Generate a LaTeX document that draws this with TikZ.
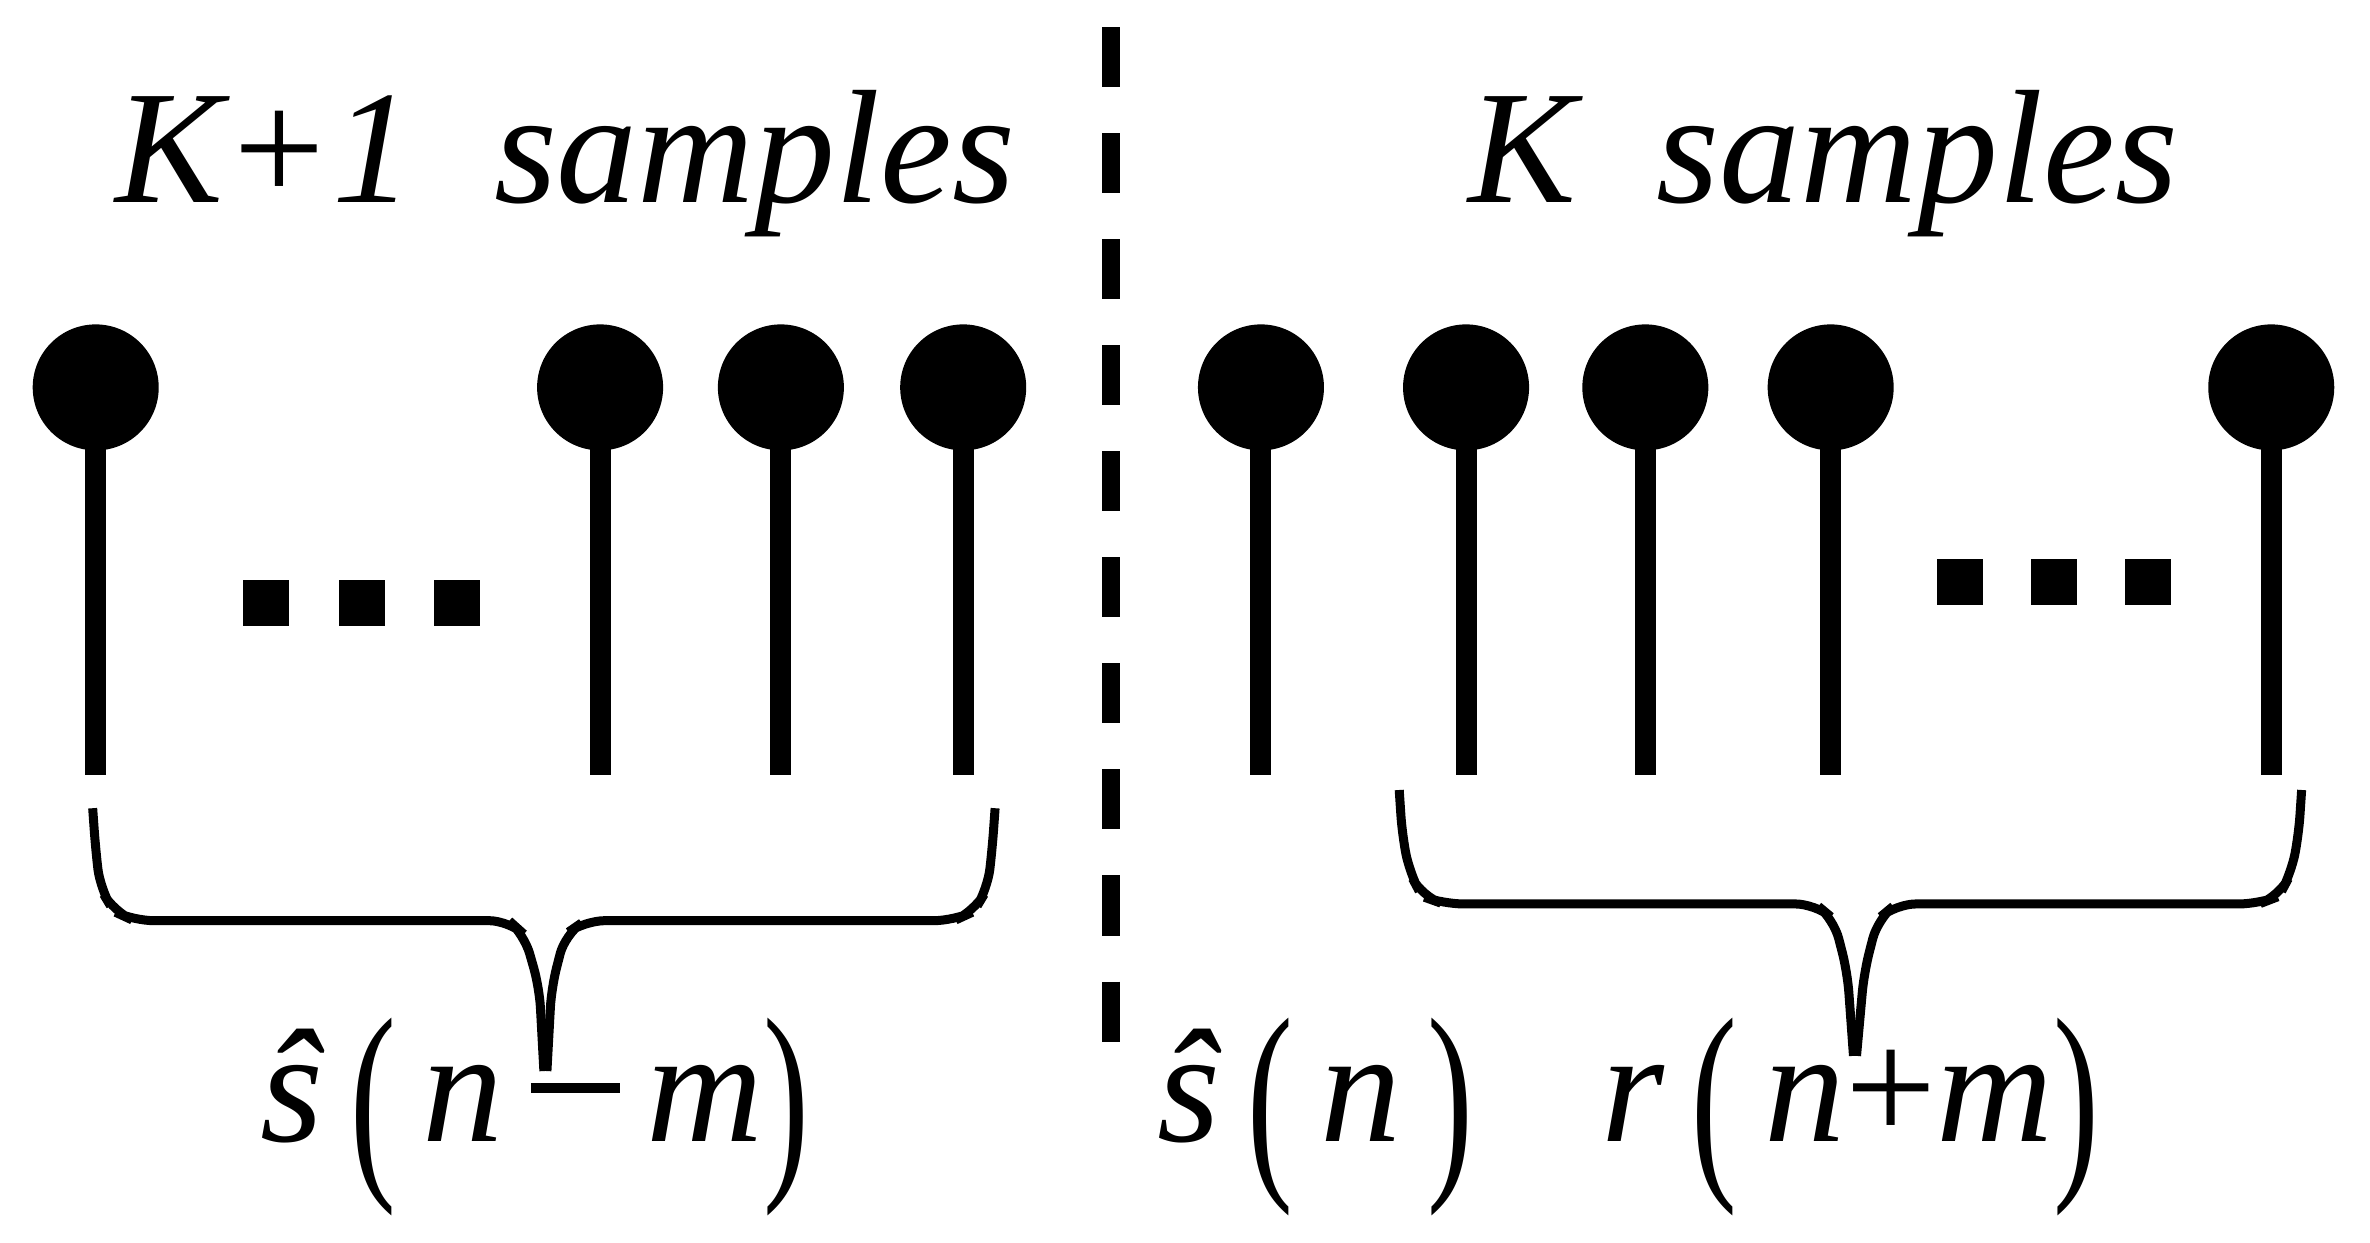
\documentclass[tikz,border=0pt]{standalone}
\usepackage{fontspec}
\setmainfont{Liberation Serif}
\newfontfamily\tms{Liberation Serif}
\usepackage{graphicx}
\begin{document}
\begin{tikzpicture}[x=0.1519mm,y=-0.1519mm,
  stem/.style={line width=2.1mm},
  ball/.style={circle,fill=black,minimum size=12.6mm,inner sep=0pt},
  dotsq/.style={fill=black,minimum size=4.6mm,inner sep=0pt},
  brace/.style={line width=0.9mm,rounded corners=2mm},
  lbl/.style={font=\tms\fontsize{46}{50}\selectfont\itshape,inner sep=0pt}]
\useasboundingbox (0,0) rectangle (1560,818);
\foreach \x [count=\i] in {63,395,514,634,830,965,1083,1205,1495}{
  \node[ball] (b\i) at (\x,255) {};
  \draw[stem] (\x,255) -- (\x,510);
}
\foreach \x [count=\i] in {175,238,301}{\node[dotsq] (dl\i) at (\x,397) {};}
\foreach \x [count=\i] in {1290,1352,1414}{\node[dotsq] (dr\i) at (\x,383) {};}
\draw[line width=1.8mm,dash pattern=on 6mm off 4.6mm] (731,18) -- (731,705);
\node[lbl] (t1) at (372,108) {K+1\ \ samples};
\node[lbl] (t2) at (1200,108) {K\ \ samples};
% braces
\draw[brace] (61,532) -- (63,560) -- (66,585) -- (75,600) -- (88,606) -- (335,606) -- (345,615) -- (355,650) -- (358,705);
\draw[brace] (655,532) -- (653,560) -- (650,585) -- (641,600) -- (628,606) -- (385,606) -- (372,615) -- (363,650) -- (360,705);
\draw[brace] (921,520) -- (923,550) -- (928,575) -- (936,590) -- (950,595) -- (1195,595) -- (1207,605) -- (1216,640) -- (1220,695);
\draw[brace] (1515,520) -- (1513,550) -- (1508,575) -- (1500,590) -- (1487,595) -- (1248,595) -- (1236,605) -- (1227,640) -- (1222,695);
\newcommand{\bp}[1]{\raisebox{-0.17em}{\scalebox{0.85}[1.35]{\upshape #1}}}
\node[lbl] (f1) at (352,735) {ŝ\,\bp{(}\,n\,{\upshape\rule[0.3em]{0.55em}{0.06em}}\,m\bp{)}};
\node[lbl] (f2) at (866,735) {ŝ\,\bp{(}\,n\,\bp{)}};
\node[lbl] (f3) at (1218,735) {r\,\bp{(}\,n{\upshape+}m\bp{)}};
\end{tikzpicture}
\end{document}
